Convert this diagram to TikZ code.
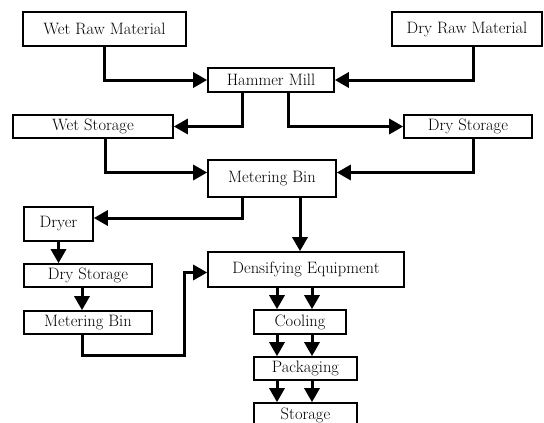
\documentclass[tikz,border=0pt]{standalone}
\usetikzlibrary{arrows.meta}
\begin{document}
\begin{tikzpicture}[x=1pt,y=-1pt,
    stage/.style={draw, line width=1.6pt, inner sep=0pt, font=\fontsize{16.5}{19}\selectfont},
    flow/.style={line width=3pt, -{Triangle[length=14pt,width=15pt]}}]
   \useasboundingbox (0,0) rectangle (544,423);
   \clip (0,0) rectangle (544,423);

   \node[stage, minimum width=163pt, minimum height=34pt] (WR) at (104.5,29) {Wet Raw Material};
   \node[stage, minimum width=150pt, minimum height=34pt] (DR) at (467,29) {Dry Raw Material};
   \node[stage, minimum width=126pt, minimum height=24pt] (HM) at (271,80) {Hammer Mill};
   \node[stage, minimum width=160pt, minimum height=23pt] (WS) at (93,126.5) {Wet Storage};
   \node[stage, minimum width=128pt, minimum height=23pt] (DS) at (468,126.5) {Dry Storage};
   \node[stage, minimum width=128pt, minimum height=37pt] (MB) at (272,178.5) {Metering Bin};
   \node[stage, minimum width=69pt, minimum height=34pt] (Dryer) at (58.5,224) {Dryer};
   \node[stage, minimum width=128pt, minimum height=23pt] (DS2) at (88,275.5) {Dry Storage};
   \node[stage, minimum width=128pt, minimum height=23pt] (MB2) at (88,322.5) {Metering Bin};
   \node[stage, minimum width=196pt, minimum height=35pt] (DE) at (306,269.5) {Densifying Equipment};
   \node[stage, minimum width=92pt, minimum height=24pt] (CO) at (300,322) {Cooling};
   \node[stage, minimum width=103pt, minimum height=23pt] (PA) at (305.5,368.5) {Packaging};
   \node[stage, minimum width=103pt, minimum height=24pt] (ST) at (305.5,415) {Storage};

   \path ([xshift=-6pt]DE.north) coordinate (DEin);
   \path ([xshift=-6pt]DS2.south) coordinate (DSout);

   % raw material into the mill
   \draw[flow] (WR.south) |- (HM.west);
   \draw[flow] ([xshift=6pt]DR.south) |- (HM.east);

   \draw[flow] ([xshift=35pt]HM.south west) |- (WS.east);
   \draw[flow] ([xshift=81pt]HM.south west) |- (DS.west);

   \draw[flow] ([xshift=12pt]WS.south) |- ([yshift=6pt]MB.west);
   \draw[flow] ([xshift=5pt]DS.south) |- ([yshift=6pt]MB.east);

   \draw[flow] ([xshift=35pt]MB.south west) |- ([yshift=6pt]Dryer.east);
   \draw[flow] (DEin |- MB.south) -- (DEin);

   % drying line
   \draw[flow] (Dryer.south) -- (Dryer.south |- DS2.north);
   \draw[flow] (DSout) -- (DSout |- MB2.north);
   \draw[flow] ([xshift=-6pt]MB2.south) |- ++(102,21) |- ([yshift=-3pt]DE.west);

   \draw[flow] (DE.south -| 277,0) -- (CO.north -| 277,0);
   \draw[flow] (DE.south -| 312,0) -- (CO.north -| 312,0);
   \draw[flow] (CO.south -| 277,0) -- (PA.north -| 277,0);
   \draw[flow] (CO.south -| 312,0) -- (PA.north -| 312,0);
   \draw[flow] (PA.south -| 277,0) -- (ST.north -| 277,0);
   \draw[flow] (PA.south -| 312,0) -- (ST.north -| 312,0);

 \end{tikzpicture}
\end{document}
